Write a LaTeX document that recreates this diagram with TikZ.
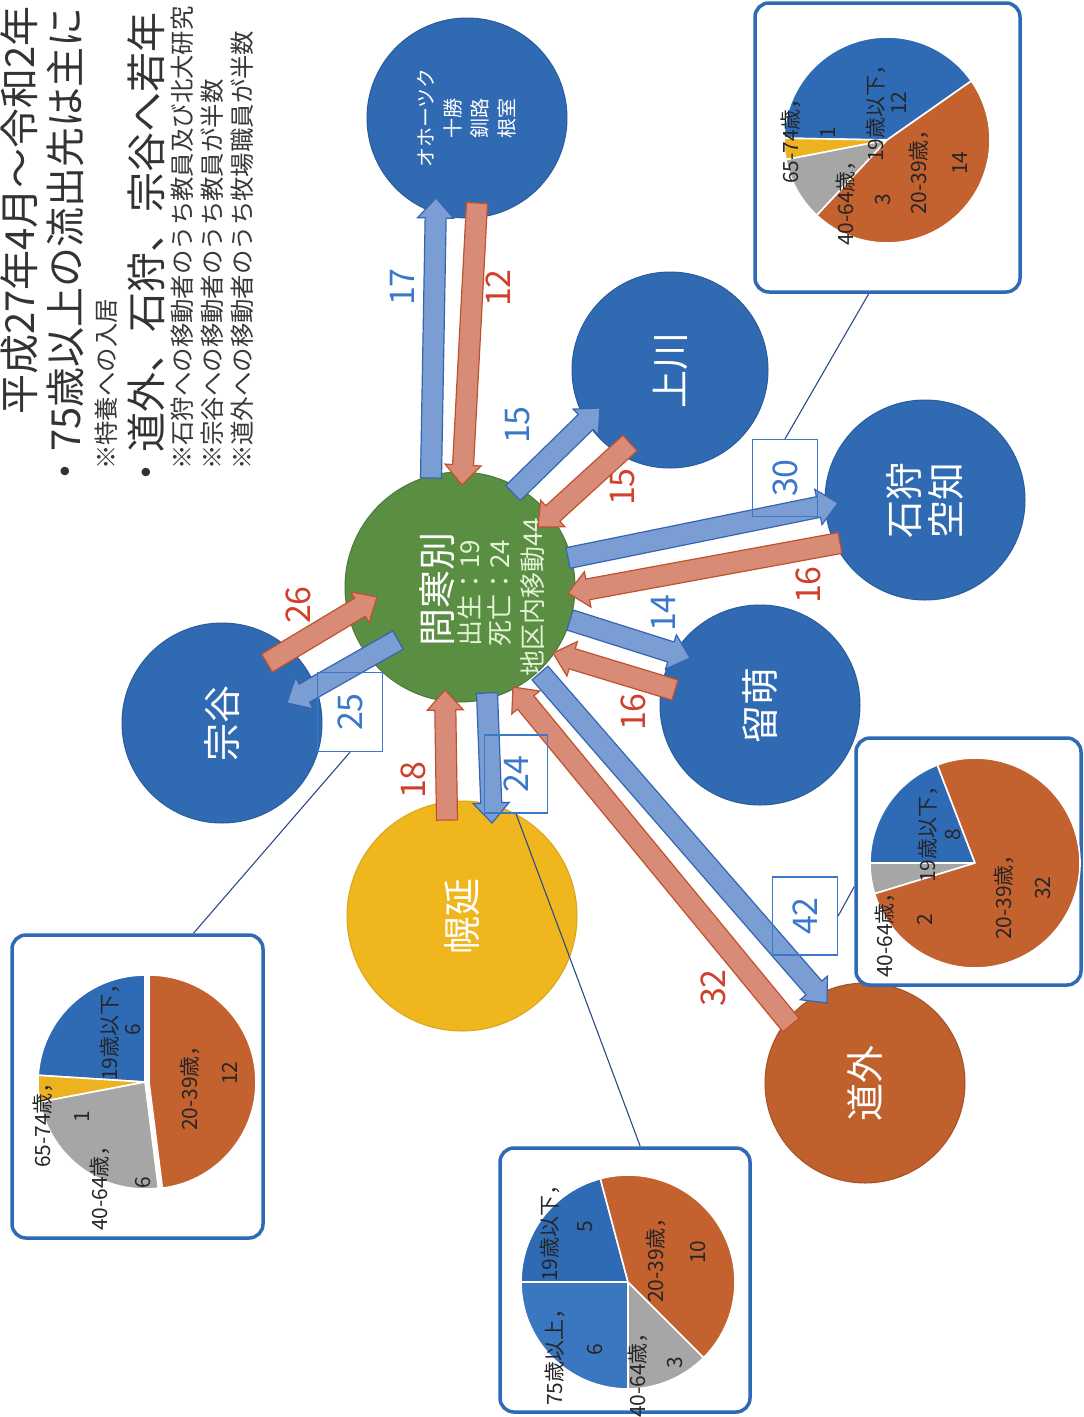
\documentclass[tikz,border=0pt]{standalone}
\usepackage{fontspec}
\usepackage{graphicx}
\setmainfont{Noto Sans CJK JP}
\usetikzlibrary{calc}
\newcommand\fsz[2]{\fontsize{#1}{#2}\selectfont}
\definecolor{cblue}{HTML}{2F6AB2}
\definecolor{cbluedk}{HTML}{285C9C}
\definecolor{cgreen}{HTML}{5A8F43}
\definecolor{cgreendk}{HTML}{4A7A36}
\definecolor{corange}{HTML}{C0602D}
\definecolor{cyellow}{HTML}{F0B61E}
\definecolor{arrblue}{HTML}{7A9ED4}
\definecolor{arrbluedk}{HTML}{3565B0}
\definecolor{arrred}{HTML}{D88C78}
\definecolor{arrreddk}{HTML}{C2502E}
\definecolor{numblue}{HTML}{3A78C8}
\definecolor{numred}{HTML}{D0402A}
\definecolor{pblue}{HTML}{2F6AB5}
\definecolor{pblueb}{HTML}{3B76C0}
\definecolor{porange}{HTML}{C3612F}
\definecolor{pgray}{HTML}{A6A6A6}
\definecolor{pyellow}{HTML}{EDB21F}
\definecolor{pboxblue}{HTML}{2E6AB5}
\definecolor{connc}{HTML}{2B4C86}
\definecolor{mkpale}{HTML}{E4F2D6}
\newcommand\barrow[3]{%
  \coordinate (bah) at ($(#3)!20pt!(#2)$);
  \filldraw[#1] ($(#2)!10.5pt!90:(#3)$) -- ($(bah)!10.5pt!90:(#3)$) -- ($(bah)!18pt!90:(#3)$) -- (#3) -- ($(bah)!18pt!-90:(#3)$) -- ($(bah)!10.5pt!-90:(#3)$) -- ($(#2)!10.5pt!-90:(#3)$) -- cycle;}
\newcommand\pslice[5]{\filldraw[fill=#1, draw=white, line width=1.6pt, line join=round] (#2) -- ++(#3:#5) arc[start angle=#3, end angle=#4, radius=#5] -- cycle;}
\begin{document}
\begin{tikzpicture}[x=1pt,y=1pt,
  bcirc/.style={circle, inner sep=0pt, fill=cblue, draw=cbluedk, line width=1pt, text=white, rotate=90, font=\fsz{38}{42}, align=center},
  outarr/.style={fill=arrblue, draw=arrbluedk, line width=1.2pt, line join=miter},
  inarr/.style={fill=arrred, draw=arrreddk, line width=1.2pt, line join=miter},
  nblue/.style={text=numblue, rotate=90, font=\fsz{34}{34}, inner sep=0pt},
  nred/.style={text=numred, rotate=90, font=\fsz{34}{34}, inner sep=0pt},
  nbox/.style={draw=numblue, line width=1.3pt, text=numblue, font=\fsz{34}{34}, inner sep=0pt},
  conn/.style={draw=connc, line width=1.1pt},
  pbox/.style={draw=pboxblue, line width=3.5pt, rounded corners=14pt, fill=white, inner sep=0pt},
  plab/.style={rotate=90, font=\fsz{21}{21}, text=black!85, inner sep=0pt},
  hdr/.style={rotate=90, font=\fsz{40}{40}, text=black!80, inner sep=0pt, anchor=west},
  note/.style={rotate=90, font=\fsz{24.4}{25}, text=black!78, inner sep=0pt, anchor=west},
  mktext/.style={rotate=90, inner sep=0pt, anchor=west}
]
\useasboundingbox (0,0) rectangle (1084,-1417);
\fill[white] (0,0) rectangle (1084,-1417);

% ---- circles ----
\node[circle, inner sep=0pt, fill=cgreen, draw=cgreendk, line width=1pt, minimum size=230] (mk) at (460,-587) {};
\node[bcirc, minimum size=200, font=\fsz{20}{27}] (ok) at (467,-118) {オホーツク\\十勝\\釧路\\根室};
\node[bcirc, minimum size=196] (kk) at (670,-370) {上川};
\node[bcirc, minimum size=200] (is) at (925,-500) {石狩\\空知};
\node[bcirc, minimum size=200] (rm) at (760,-705) {留萌};
\node[bcirc, minimum size=200, fill=corange, draw=corange!85!black] (dg) at (865,-1083) {道外};
\node[bcirc, minimum size=230, fill=cyellow, draw=cyellow!90!black] (hn) at (462,-916) {幌延};
\node[bcirc, minimum size=200] (sy) at (222,-723) {宗谷};

\node[mktext, text=white, font=\fsz{38}{38}] (mk1) at (437,-647) {問寒別};
\node[mktext, text=mkpale, font=\fsz{26}{26}] (mk2) at (470,-647) {出生：19};
\node[mktext, text=mkpale, font=\fsz{26}{26}] (mk3) at (500,-647) {死亡：24};
\node[mktext, text=mkpale, font=\fsz{26}{26}] (mk4) at (533,-677) {地区内移動44};

% ---- number labels ----
\node[nblue] (l17) at (402,-287) {17};
\node[nred] (l12) at (498,-288) {12};
\node[nblue] (l15a) at (518,-425) {15};
\node[nred] (l15b) at (623,-487) {15};
\node[nblue] (l14) at (663,-613) {14};
\node[nred] (l16a) at (808,-585) {16};
\node[nred] (l16b) at (633,-712) {16};
\node[nred] (l32) at (713,-988) {32};
\node[nred] (l18) at (413,-780) {18};
\node[nred] (l26) at (298,-605) {26};

% ---- arrow end points ----
\coordinate (okA) at (431,-478); \coordinate (okB) at (436,-198);
\coordinate (okC) at (477,-203); \coordinate (okD) at (462,-485);
\coordinate (kkA) at (513,-493); \coordinate (kkB) at (600,-408);
\coordinate (kkC) at (630,-443); \coordinate (kkD) at (538,-527);
\coordinate (isA) at (568,-558); \coordinate (isB) at (838,-503);
\coordinate (isC) at (840,-543); \coordinate (isD) at (568,-593);
\coordinate (rmA) at (570,-620); \coordinate (rmB) at (690,-658);
\coordinate (rmC) at (675,-690); \coordinate (rmD) at (553,-653);
\coordinate (dgA) at (540,-673); \coordinate (dgB) at (827,-1003);
\coordinate (dgC) at (791,-1025); \coordinate (dgD) at (513,-687);
\coordinate (hnA) at (487,-693); \coordinate (hnB) at (492,-823);
\coordinate (hnC) at (447,-820); \coordinate (hnD) at (445,-690);
\coordinate (syA) at (398,-640); \coordinate (syB) at (287,-703);
\coordinate (syC) at (267,-663); \coordinate (syD) at (377,-597);

\barrow{outarr}{okA}{okB}
\barrow{inarr}{okC}{okD}
\barrow{outarr}{kkA}{kkB}
\barrow{inarr}{kkC}{kkD}
\barrow{outarr}{isA}{isB}
\barrow{inarr}{isC}{isD}
\barrow{outarr}{rmA}{rmB}
\barrow{inarr}{rmC}{rmD}
\barrow{inarr}{dgC}{dgD}
\barrow{outarr}{dgA}{dgB}
\barrow{inarr}{hnC}{hnD}
\barrow{outarr}{hnA}{hnB}
\barrow{inarr}{syC}{syD}
\barrow{outarr}{syA}{syB}

% ---- boxed numbers ----
\node[nbox, minimum width=65, minimum height=77] (b30) at (785,-478) {\rotatebox{90}{30}};
\node[nbox, minimum width=65, minimum height=78] (b42) at (805,-916) {\rotatebox{90}{42}};
\node[nbox, minimum width=63, minimum height=78] (b24) at (516,-774) {\rotatebox{90}{24}};
\node[nbox, minimum width=65, minimum height=79] (b25) at (350,-712) {\rotatebox{90}{25}};

% ---- pie boxes ----
\node[pbox, minimum width=265, minimum height=289] (pbTR) at (887.5,-147.5) {};
\node[pbox, minimum width=225, minimum height=247] (pbR) at (968.5,-861.5) {};
\node[pbox, minimum width=251, minimum height=303] (pbL) at (137.5,-1086.5) {};
\node[pbox, minimum width=250, minimum height=264] (pbB) at (625,-1280) {};

\draw[conn] (b30.north) -- ($(pbTR.south west)!0.43!(pbTR.south east)$);
\draw[conn] (b42.east) -- ($(pbR.north west)!0.6!(pbR.south west)$);
\draw[conn] (b24.south) -- ($(pbB.north west)!0.56!(pbB.north east)$);
\draw[conn] (b25.south) -- ($(pbL.north west)!0.72!(pbL.north east)$);

% ---- pies ----
\coordinate (pcTR) at (887,-140);
\pslice{pblue}{pcTR}{35}{179}{103}
\pslice{pyellow}{pcTR}{179}{191}{103}
\pslice{pgray}{pcTR}{191}{227}{103}
\pslice{porange}{pcTR}{227}{395}{103}

\coordinate (pcR) at (975,-863);
\pslice{pblue}{pcR}{111}{180}{105}
\pslice{pgray}{pcR}{180}{197}{105}
\pslice{porange}{pcR}{197}{471}{105}

\coordinate (pcL) at (145,-1082);
\coordinate (pcLo) at (149,-1082);
\pslice{pblue}{pcL}{90}{176.4}{107}
\pslice{pyellow}{pcL}{176.4}{190.8}{107}
\pslice{pgray}{pcL}{190.8}{277.2}{107}
\pslice{porange}{pcLo}{277.2}{450}{107}

\coordinate (pcB) at (628,-1282);
\pslice{pblue}{pcB}{105}{180}{107}
\pslice{pblueb}{pcB}{180}{270}{107}
\pslice{pgray}{pcB}{270}{315}{107}
\pslice{porange}{pcB}{315}{465}{107}

% ---- pie labels ----
\node[plab] (t1a) at (876,-108) {19歳以下，};
\node[plab] (t1b) at (899,-103) {12};
\node[plab] (t2a) at (919,-167) {20-39歳，};
\node[plab] (t2b) at (960,-163) {14};
\node[plab] (t3a) at (846,-198) {40-64歳，};
\node[plab] (t3b) at (883,-200) {3};
\node[plab] (t4a) at (791,-136) {65-74歳，};
\node[plab] (t4b) at (828,-133) {1};

\node[plab] (r1a) at (928,-829) {19歳以下，};
\node[plab] (r1b) at (953,-835) {8};
\node[plab] (r2a) at (885,-930) {40-64歳，};
\node[plab] (r2b) at (925,-920) {2};
\node[plab] (r3a) at (1004,-892) {20-39歳，};
\node[plab] (r3b) at (1043,-888) {32};

\node[plab] (s1a) at (110,-1027) {19歳以下，};
\node[plab] (s1b) at (133,-1030) {6};
\node[plab] (s2a) at (190,-1083) {20-39歳，};
\node[plab] (s2b) at (230,-1073) {12};
\node[plab] (s3a) at (100,-1183) {40-64歳，};
\node[plab] (s3b) at (143,-1183) {6};
\node[plab] (s4a) at (43,-1120) {65-74歳，};
\node[plab] (s4b) at (82,-1117) {1};

\node[plab] (u1a) at (550,-1228) {19歳以下，};
\node[plab] (u1b) at (585,-1227) {5};
\node[plab] (u2a) at (555,-1352) {75歳以上，};
\node[plab] (u2b) at (595,-1350) {6};
\node[plab] (u3a) at (638,-1370) {40-64歳，};
\node[plab] (u3b) at (675,-1363) {3};
\node[plab] (u4a) at (656,-1255) {20-39歳，};
\node[plab] (u4b) at (698,-1252) {10};

% ---- header ----
\node[hdr] (h1) at (19,-415) {平成27年4月～令和2年};
\node[hdr] (h2) at (65,-492) {・75歳以上の流出先は主に};
\node[note] (h3) at (106,-470) {※特養への入居};
\node[hdr] (h4) at (146,-493) {・道外、石狩、宗谷へ若年};
\node[note] (h5) at (182,-470) {※石狩への移動者のうち教員及び北大研究};
\node[note] (h6) at (212,-470) {※宗谷への移動者のうち教員が半数};
\node[note] (h7) at (242,-470) {※道外への移動者のうち牧場職員が半数};
\end{tikzpicture}
\end{document}
